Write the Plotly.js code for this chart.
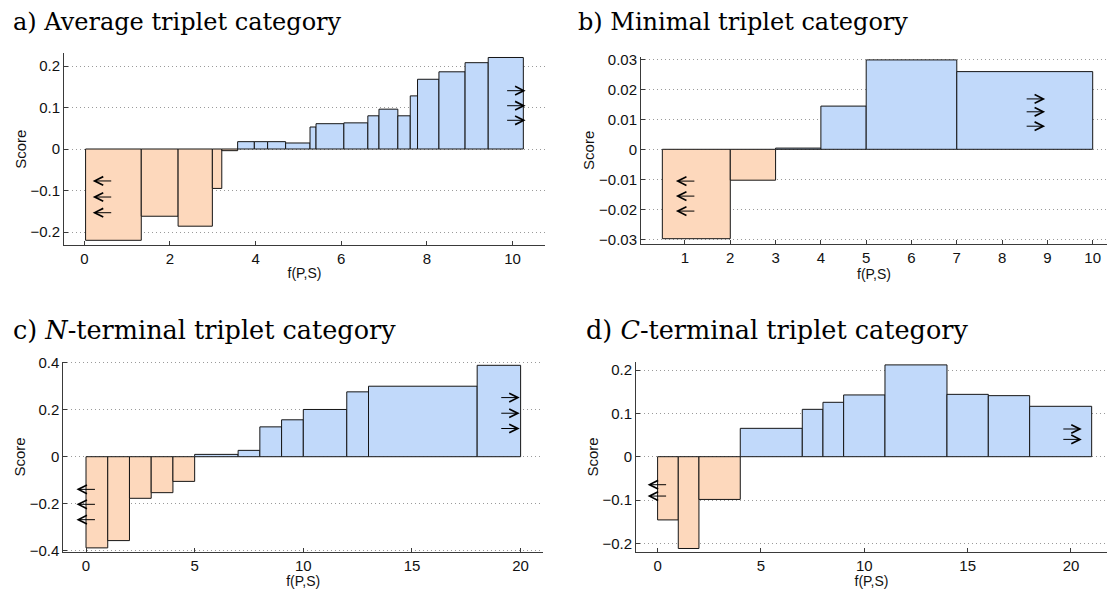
<!DOCTYPE html>
<html>
<head>
<meta charset="utf-8">
<script src="https://cdn.plot.ly/plotly-3.0.1.min.js"></script>
<style>html,body{margin:0;padding:0;background:#fff;}#chart{width:1107px;height:589px;}</style>
</head>
<body>
<div id="chart"></div>
<script>
// ---------- data ----------
// a) Average triplet category
const avgEdges  = [0.03, 1.33, 2.19, 2.99, 3.21, 3.58, 3.97, 4.28, 4.70, 5.27, 5.41, 6.06, 6.62, 6.88, 7.32, 7.61, 7.78, 8.28, 8.89, 9.43, 10.25];
const avgScores = [-0.220, -0.162, -0.186, -0.095, -0.004, 0.0177, 0.0177, 0.0177, 0.0145, 0.053, 0.061, 0.063, 0.080, 0.096, 0.080, 0.128, 0.168, 0.186, 0.208, 0.2205];
// b) Minimal triplet category
const minEdges  = [0.5, 2, 3, 4, 5, 7, 10];
const minScores = [-0.0298, -0.0103, 0.0004, 0.0144, 0.0298, 0.0259];
// c) N-terminal triplet category
const nEdges  = [0, 1, 2, 3, 4, 5, 7, 8, 9, 10, 12, 13, 18, 20];
const nScores = [-0.388, -0.357, -0.177, -0.153, -0.105, 0.0099, 0.027, 0.127, 0.157, 0.201, 0.276, 0.300, 0.389];
// d) C-terminal triplet category
const cEdges  = [0, 1, 2, 4, 7, 8, 9, 11, 14, 16, 18, 21];
const cScores = [-0.146, -0.212, -0.0987, 0.0655, 0.1094, 0.1256, 0.1426, 0.212, 0.144, 0.141, 0.1164];

// tick labels
const avgXTicks = [0, 2, 4, 6, 8, 10];
const avgYTicks = [-0.2, -0.1, 0, 0.1, 0.2];
const minXTicks = [1, 2, 3, 4, 5, 6, 7, 8, 9, 10];
const minYTicks = [-0.03, -0.02, -0.01, 0, 0.01, 0.02, 0.03];
const nXTicks = [0, 5, 10, 15, 20];
const nYTicks = [-0.4, -0.2, 0, 0.2, 0.4];
const cXTicks = [0, 5, 10, 15, 20];
const cYTicks = [-0.2, -0.1, 0, 0.1, 0.2];

// direction arrows: y levels of the arrows pointing left / right in each panel
const avgArrowLeftY  = [-0.077, -0.1157, -0.1535];
const avgArrowRightY = [0.1405, 0.1043, 0.0692];
const minArrowLeftY  = [-0.0106, -0.0156, -0.0206];
const minArrowRightY = [0.0168, 0.0125, 0.0077];
const nArrowLeftY    = [-0.139, -0.2026, -0.268];
const nArrowRightY   = [0.2516, 0.185, 0.120];
const cArrowLeftY    = [-0.0647, -0.0909];
const cArrowRightY   = [0.064, 0.040];

const titles = [
  "a) Average triplet category",
  "b) Minimal triplet category",
  "c) <i>N</i>-terminal triplet category",
  "d) <i>C</i>-terminal triplet category"
];

// ---------- layout / styling ----------
const W = 1107, H = 589;
const NEG = '#FDD8BC', POS = '#C1D9FA';
const AXC = '#3a3a3a';
const tickFont = {family: 'Liberation Sans, Arial, sans-serif', size: 15, color: '#111'};
const labelFont = {family: 'Liberation Sans, Arial, sans-serif', size: 14, color: '#111'};
const ARROW_PX = 20;

function dx(l, r) { return [l / W, Math.min(1, r / W)]; }
function dy(t, b) { return [1 - b / H, 1 - t / H]; }

const panels = [
  {edges: avgEdges, vals: avgScores, xd: dx(64, 545), yd: dy(53.3, 245), xr: [-0.474, 10.756], yr: [-0.2313, 0.2306],
   xt: avgXTicks, yt: avgYTicks, la: 0.43, ra: 10.07, ly: avgArrowLeftY, ry: avgArrowRightY, tx: 11, ty: 38, ts: 24},
  {edges: minEdges, vals: minScores, xd: dx(641, 1107), yd: dy(56.7, 244), xr: [0.029, 10.316], yr: [-0.03157, 0.03087],
   xt: minXTicks, yt: minYTicks, la: 1.02, ra: 8.73, ly: minArrowLeftY, ry: minArrowRightY, tx: 576, ty: 38, ts: 24},
  {edges: nEdges, vals: nScores, xd: dx(63.3, 543), yd: dy(361.7, 552.3), xr: [-1.045, 21.03], yr: [-0.4068, 0.4043],
   xt: nXTicks, yt: nYTicks, la: 0.02, ra: 19.5, ly: nArrowLeftY, ry: nArrowRightY, tx: 11, ty: 347, ts: 25.5},
  {edges: cEdges, vals: cScores, xd: dx(636, 1107), yd: dy(361.7, 552.3), xr: [-1.045, 21.742], yr: [-0.2208, 0.2194],
   xt: cXTicks, yt: cYTicks, la: 0.0, ra: 20.04, ly: cArrowLeftY, ry: cArrowRightY, tx: 584, ty: 347, ts: 25.5}
];

const data = [];
const layout = {
  width: W, height: H,
  margin: {l: 0, r: 0, t: 0, b: 0},
  paper_bgcolor: '#fff', plot_bgcolor: 'rgba(0,0,0,0)',
  showlegend: false,
  barmode: 'overlay',
  annotations: []
};

panels.forEach((p, i) => {
  const n = i + 1;
  const xa = n === 1 ? 'x' : 'x' + n;
  const ya = n === 1 ? 'y' : 'y' + n;
  const centers = p.vals.map((_, k) => (p.edges[k] + p.edges[k + 1]) / 2);
  const widths = p.vals.map((_, k) => p.edges[k + 1] - p.edges[k]);
  data.push({
    type: 'bar', x: centers, y: p.vals, width: widths,
    xaxis: xa, yaxis: ya,
    marker: {color: p.vals.map(v => v < 0 ? NEG : POS), line: {color: '#151515', width: 1}},
    hoverinfo: 'x+y'
  });
  const xKey = n === 1 ? 'xaxis' : 'xaxis' + n;
  const yKey = n === 1 ? 'yaxis' : 'yaxis' + n;
  layout[xKey] = {
    domain: p.xd, range: p.xr, anchor: ya,
    showline: true, linecolor: AXC, linewidth: 1,
    ticks: 'inside', ticklen: 4, tickwidth: 1, tickcolor: AXC,
    tickvals: p.xt, tickfont: tickFont,
    showgrid: false, zeroline: false, fixedrange: true,
    title: {text: 'f(P,S)', font: labelFont, standoff: 2}
  };
  layout[yKey] = {
    domain: p.yd, range: p.yr, anchor: xa,
    showline: true, linecolor: AXC, linewidth: 1,
    ticks: 'inside', ticklen: 4, tickwidth: 1, tickcolor: AXC,
    tickvals: p.yt, tickfont: tickFont,
    showgrid: true, gridcolor: '#9a9a9a', griddash: '1px,3px', gridwidth: 1,
    zeroline: false, fixedrange: true,
    title: {text: 'Score', font: tickFont, standoff: 0}
  };
  // arrow half-length in data units of this panel
  const pxPerUnit = (p.xd[1] - p.xd[0]) * W / (p.xr[1] - p.xr[0]);
  const half = ARROW_PX / 2 / pxPerUnit;
  const arrowStyle = {showarrow: true, text: '', arrowhead: 5, arrowsize: 1.7, arrowwidth: 1,
    arrowcolor: '#000', standoff: 0, startstandoff: 0, axref: xa, ayref: ya, xref: xa, yref: ya};
  p.ly.forEach(y => layout.annotations.push(Object.assign({}, arrowStyle,
    {x: p.la - half, y: y, ax: p.la + half, ay: y})));
  p.ry.forEach(y => layout.annotations.push(Object.assign({}, arrowStyle,
    {x: p.ra + half, y: y, ax: p.ra - half, ay: y})));
  // panel title
  layout.annotations.push({
    xref: 'paper', yref: 'paper', x: p.tx / W, y: 1 - p.ty / H,
    xanchor: 'left', yanchor: 'bottom', showarrow: false,
    text: titles[i], font: {family: 'DejaVu Serif', size: p.ts, color: '#000'}
  });
});

Plotly.newPlot('chart', data, layout, {displayModeBar: false, staticPlot: true});
</script>
</body>
</html>
